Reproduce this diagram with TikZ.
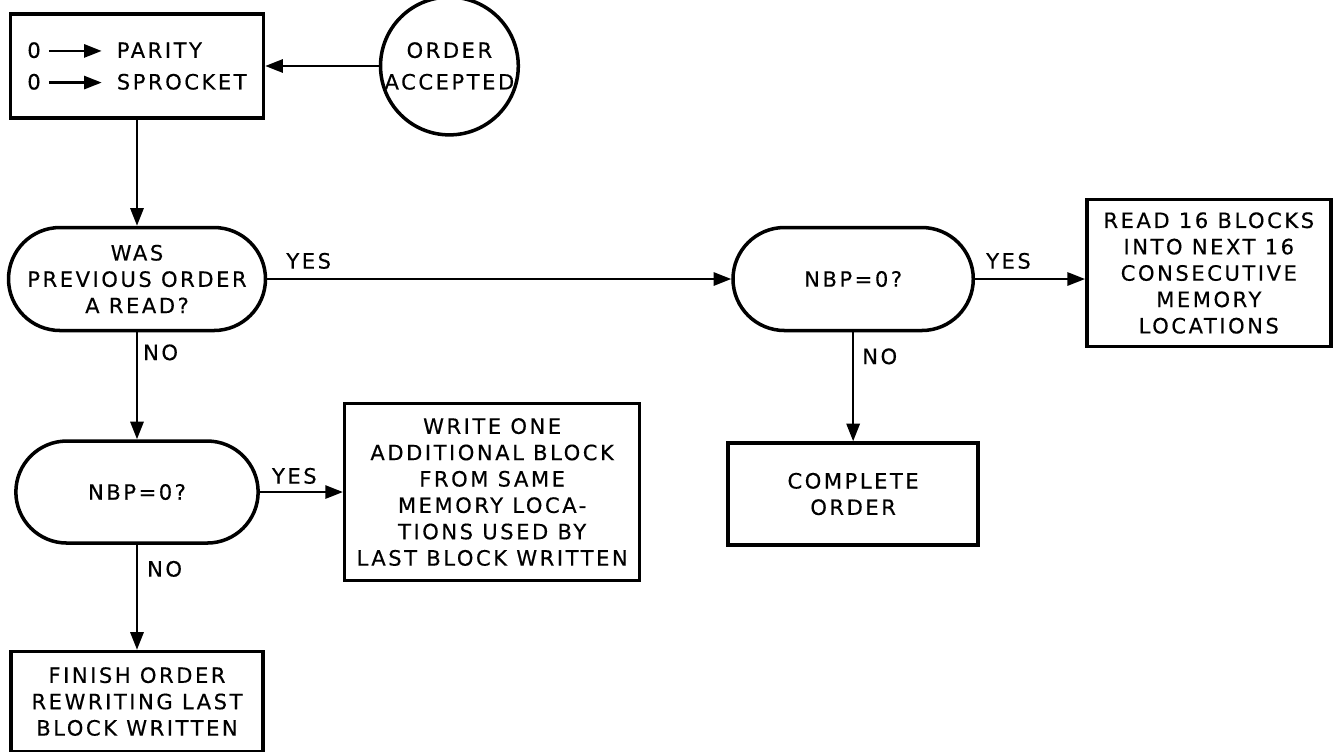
\documentclass[tikz,border=0pt]{standalone}
\usepackage{fontspec}
\newfontfamily\leroy[LetterSpace=12, FakeBold=0.4]{DejaVu Sans}
\usetikzlibrary{positioning, shapes.misc, arrows.meta}
\newcommand{\zeroto}{0\hspace{4pt}\tikz[baseline=-0.6ex]\draw[line width=1.3pt,-{Triangle[length=10pt,width=7.5pt]}] (0pt,0pt) -- (30pt,0pt);\hspace{8pt}}

\begin{document}
\begin{tikzpicture}[
        font=\leroy\fontsize{12}{15}\selectfont,
        box/.style={rectangle, draw, line width=2pt, align=center, inner sep=2pt},
        test/.style={rounded rectangle, draw, line width=2pt, align=center, minimum width=5.04cm, minimum height=2.06cm},
        start/.style={circle, draw, line width=2pt, align=center, minimum size=2.56cm, inner sep=0pt},
        flow/.style={line width=1.3pt, -{Triangle[length=10pt,width=7.5pt]}},
        lbl/.style={inner sep=0pt}
    ]
        \useasboundingbox (0,0) rectangle (26.72,-15.04);

        % Entry
        \node[box, minimum width=5.06cm, minimum height=2.08cm, align=left] (init) at (2.74,-1.32) {\zeroto PARITY\\[3pt]\zeroto SPROCKET};
        \node[start, right=2.27cm of init] (accepted) {ORDER\\[3pt]ACCEPTED};

        % Tests
        \node[test, below=2.12cm of init] (was) {WAS\\PREVIOUS ORDER\\A READ?};
        \node[test, right=9.28cm of was] (nbpr) {NBP=0?};
        \node[test, below=2.14cm of was, minimum width=5.08cm, minimum height=2.04cm] (nbpw) {NBP=0?};

        % Actions
        \node[box, right=2.2cm of nbpr, yshift=0.12cm, minimum width=4.88cm, minimum height=2.94cm] (read) {READ 16 BLOCKS\\INTO NEXT 16\\CONSECUTIVE\\MEMORY\\LOCATIONS};
        \node[box, below=2.18cm of nbpr, minimum width=5cm, minimum height=2.04cm] (complete) {COMPLETE\\ORDER};
        \node[box, right=1.66cm of nbpw, minimum width=5.9cm, minimum height=3.54cm] (write) {WRITE ONE\\ADDITIONAL BLOCK\\FROM SAME\\MEMORY LOCA-\\TIONS USED BY\\LAST BLOCK WRITTEN};
        \node[box, below=2.1cm of nbpw, minimum width=5.04cm, minimum height=2cm] (finish) {FINISH ORDER\\REWRITING LAST\\BLOCK WRITTEN};

        % Arrows
        \draw[flow] (accepted.west) -- (init.east |- accepted.west);
        \draw[flow] (init.south) -- (was.north);
        \draw[flow] (was.east) -- node[lbl, pos=0, anchor=south west, xshift=0.36cm, yshift=0.18cm] {YES} (nbpr.west);
        \draw[flow] (was.south) -- node[lbl, pos=0, anchor=north west, xshift=0.1cm, yshift=-0.22cm] {NO} (nbpw.north);
        \draw[flow] (nbpr.east) -- node[lbl, pos=0, anchor=south west, xshift=0.2cm, yshift=0.18cm] {YES} (nbpr.east -| read.west);
        \draw[flow] (nbpr.south) -- node[lbl, pos=0, anchor=north west, xshift=0.16cm, yshift=-0.3cm] {NO} (complete.north);
        \draw[flow] (nbpw.east) -- node[lbl, pos=0, anchor=south west, xshift=0.22cm, yshift=0.14cm] {YES} (write.west);
        \draw[flow] (nbpw.south) -- node[lbl, pos=0, anchor=north west, xshift=0.18cm, yshift=-0.3cm] {NO} (finish.north);
    \end{tikzpicture}
\end{document}
